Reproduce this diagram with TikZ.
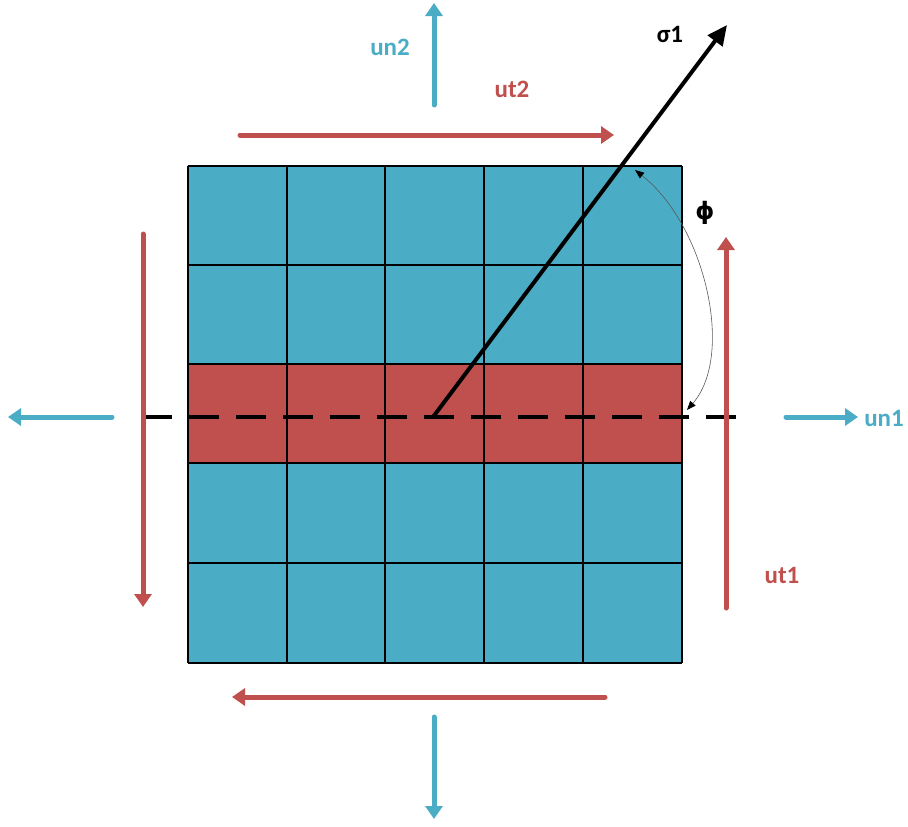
\documentclass[tikz,border=0pt]{standalone}
\usepackage{fontspec}
\setmainfont{Carlito}
\newfontfamily\djv{DejaVu Sans}
\usetikzlibrary{arrows.meta}
\definecolor{cblue}{HTML}{4BACC6}
\definecolor{cred}{HTML}{C0504D}
\tikzset{
  bluearrow/.style={draw=cblue, line width=5pt, line cap=round, -{Triangle[length=13pt,width=17pt]}},
  redarrow/.style={draw=cred, line width=5pt, line cap=round, -{Triangle[length=13pt,width=17pt]}},
  lbl/.style={font=\bfseries\fontsize{25}{28}\selectfont, inner sep=0pt},
  gridline/.style={draw=black, line width=2pt},
}
\begin{document}
\begin{tikzpicture}[x=1pt,y=-1pt]
\useasboundingbox (0,0) rectangle (908,827);
% grid
\fill[cblue] (188,166) rectangle (682,663);
\fill[cred] (188,364) rectangle (682,463);
\foreach \x in {188,287,385,484,583,682} \draw[gridline] (\x,166) -- (\x,663);
\foreach \y in {166,265,364,463,563,663} \draw[gridline] (188,\y) -- (682,\y);
% coordinates
\coordinate (o) at (433,417);
\coordinate (sig) at (727,25);
\coordinate (dl) at (142,417);
\coordinate (dr) at (742,417);
\coordinate (un2a) at (434,105); \coordinate (un2b) at (434,3);
\coordinate (dnA) at (434,717); \coordinate (dnB) at (434,819);
\coordinate (lfA) at (112,417); \coordinate (lfB) at (8,417);
\coordinate (un1a) at (786,417); \coordinate (un1b) at (858,417);
\coordinate (ut2a) at (240,135); \coordinate (ut2b) at (614,135);
\coordinate (btA) at (605,697); \coordinate (btB) at (232,697);
\coordinate (lrA) at (143,234); \coordinate (lrB) at (143,607);
\coordinate (ut1a) at (726,608); \coordinate (ut1b) at (726,237);
\coordinate (phA) at (635,170); \coordinate (phB) at (687,410);
% dashed axis
\draw[black, line width=3.5pt, dash pattern=on 30pt off 17pt] (dl) -- (dr);
% sigma arrow
\draw[black, line width=4pt, -{Triangle[length=20pt,width=18pt]}] (o) -- (sig);
% phi arc
\draw[gray!70!black, line width=0.6pt, {Triangle[length=9pt,width=7pt,black]}-{Triangle[length=9pt,width=7pt,black]}] (phA) .. controls (705,225) and (735,355) .. (phB);
% arrows
\draw[bluearrow] (un2a) -- (un2b);
\draw[bluearrow] (dnA) -- (dnB);
\draw[bluearrow] (lfA) -- (lfB);
\draw[bluearrow] (un1a) -- (un1b);
\draw[redarrow] (ut2a) -- (ut2b);
\draw[redarrow] (btA) -- (btB);
\draw[redarrow] (lrA) -- (lrB);
\draw[redarrow] (ut1a) -- (ut1b);
% labels
\node[lbl, text=black] (lsig) at (670,34) {σ1};
\node[lbl, text=black, font=\djv\bfseries\fontsize{24}{28}\selectfont] (lphi) at (705,213) {ϕ};
\node[lbl, text=cblue] (lun2) at (390,47) {un2};
\node[lbl, text=cred] (lut2) at (512,89) {ut2};
\node[lbl, text=cblue] (lun1) at (884,418) {un1};
\node[lbl, text=cred] (lut1) at (782,575) {ut1};
\end{tikzpicture}
\end{document}
